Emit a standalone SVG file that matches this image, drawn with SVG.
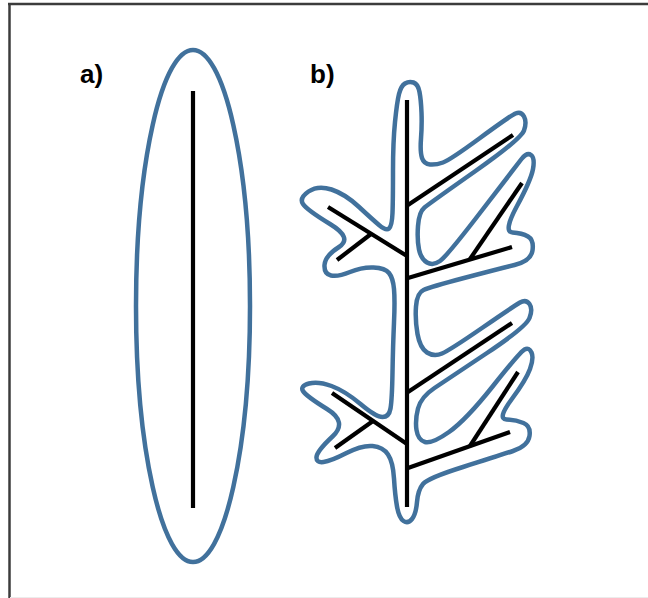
<svg xmlns="http://www.w3.org/2000/svg" width="648" height="598" viewBox="0 0 648 598">
<style>
.outline{fill:none;stroke:#41719C;stroke-width:4.5;stroke-linejoin:round}
.vein{fill:none;stroke:#000;stroke-width:4.2;stroke-linecap:butt}
.lbl{font-family:"Liberation Sans",Arial,sans-serif;font-weight:bold;font-size:26px;fill:#000}
.frame{stroke:#3c3c3c;stroke-width:2.5;fill:none}
</style>
<rect width="648" height="598" fill="#fff"/>
<g id="frame">
<line class="frame" x1="8" y1="4" x2="648" y2="4"/>
<line class="frame" x1="9.5" y1="3" x2="9.5" y2="598"/>
<line x1="10" y1="597.5" x2="648" y2="597.5" stroke="#ececec" stroke-width="1"/>
</g>
<g id="label-a"><text class="lbl" x="80" y="83">a)</text></g>
<g id="label-b"><text class="lbl" x="310" y="83">b)</text></g>
<g id="node-a">
<ellipse class="outline" cx="193" cy="306" rx="57" ry="256"/>
<line class="vein" x1="193" y1="91" x2="193" y2="508"/>
</g>
<g id="node-b">
<path class="outline" d="M405,83.5 Q409,81 413.5,82.5 Q418,84 419.5,92 Q421,100 421.5,112.5 Q422,125 421,138.5 Q420,152 422,158 Q424,164 430,164.5 Q436,165 443,162.5 Q450,160 480,138 Q510,116 515.5,113.5 Q521,111 524,116.5 Q527,122 524,130.5 Q521,139 475.5,171 Q430,203 424.5,207.5 Q419,212 418,226 Q417,240 419,249.5 Q421,259 427,262.5 Q433,266 440,261 Q447,256 481.5,211 Q516,166 521.5,159 Q527,152 531,155 Q535,158 533,169 Q531,180 517,206 Q503,232 512.5,232.5 Q522,233 528,236.5 Q534,240 532.5,250.5 Q531,261 514.5,265 Q498,269 464,278 Q430,287 423.5,290 Q417,293 416,306.5 Q415,320 417.5,334 Q420,348 427,352.5 Q434,357 442,353.5 Q450,350 482,328 Q514,306 520,302.5 Q526,299 529.5,304 Q533,309 529.5,318 Q526,327 487,353 Q448,379 434.5,388 Q421,397 418,408.5 Q415,420 416.5,430 Q418,440 425,442 Q432,444 449,432 Q466,420 493,386 Q520,352 524.5,349.5 Q529,347 531.5,352.5 Q534,358 530,369 Q526,380 511.5,399.5 Q497,419 506.5,419.5 Q516,420 523.5,423 Q531,426 529.5,436 Q528,446 513,451 Q498,456 463,467 Q428,478 423,484 Q418,490 417,502 Q416,514 412,519 Q408,524 403.5,521 Q399,518 397,506.5 Q395,495 394,478.5 Q393,462 388,454.5 Q383,447 372.5,446 Q362,445 346.5,453 Q331,461 323.5,462 Q316,463 316.5,457 Q317,451 332.5,436.5 Q348,422 327,409 Q306,396 303,391 Q300,386 309,383.5 Q318,381 331.5,386 Q345,391 360.5,404 Q376,417 382.5,417 Q389,417 390.5,408.5 Q392,400 392.5,372.5 Q393,345 394,322.5 Q395,300 394,289 Q393,278 389,273 Q385,268 373.5,267.5 Q362,267 350,272 Q338,277 331,275.5 Q324,274 324.5,265 Q325,256 339,247 Q353,238 330,224 Q307,210 303,204 Q299,198 308.5,191.5 Q318,185 331.5,189.5 Q345,194 358.5,206.5 Q372,219 379,225 Q386,231 389,228.5 Q392,226 392.5,213 Q393,200 393,171 Q393,142 395,122 Q397,102 399,94 Q401,86 405,83.5 Z"/>
<line class="vein" x1="407" y1="100" x2="407" y2="507"/>
<line class="vein" x1="408" y1="205" x2="513" y2="135"/>
<line class="vein" x1="328" y1="207" x2="407" y2="256"/>
<line class="vein" x1="371" y1="234" x2="337" y2="260"/>
<line class="vein" x1="408" y1="278" x2="512" y2="247"/>
<line class="vein" x1="470" y1="259" x2="522" y2="183"/>
<line class="vein" x1="408" y1="392" x2="512" y2="323"/>
<line class="vein" x1="332" y1="393" x2="407" y2="444"/>
<line class="vein" x1="373" y1="421" x2="335" y2="448"/>
<line class="vein" x1="408" y1="468" x2="510" y2="432"/>
<line class="vein" x1="470" y1="446" x2="518" y2="372"/>
</g>
</svg>
